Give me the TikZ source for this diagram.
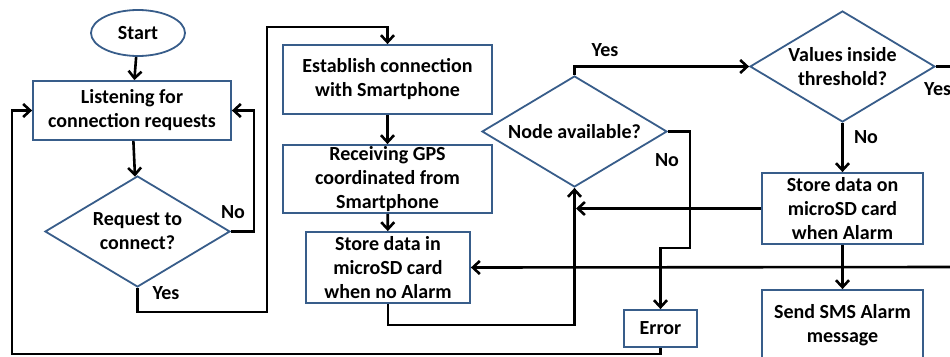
\documentclass[tikz,border=0pt]{standalone}
\usepackage{fontspec}
\setmainfont{Carlito}
\usetikzlibrary{shapes.geometric,arrows.meta}
\definecolor{boxline}{RGB}{56,93,138}
\begin{document}
\begin{tikzpicture}[x=1pt,y=-1pt,
  every node/.style={font=\bfseries\fontsize{20}{24}\selectfont, align=center, text=black},
  procbox/.style={draw=boxline, line width=1.8pt, fill=white, rectangle, inner sep=0pt},
  decision/.style={draw=boxline, line width=1.8pt, fill=white, diamond, aspect=1.667, inner sep=0pt, minimum width=185pt, minimum height=111pt},
  terminal/.style={draw=boxline, line width=1.8pt, fill=white, ellipse, inner sep=0pt},
  conn/.style={line width=2.6pt, black, -{Straight Barb[length=7pt,width=13pt]}},
  plain/.style={line width=2.6pt, black},
  lbl/.style={inner sep=0pt}
]
\useasboundingbox (0,0) rectangle (950,356);

% nodes
\node[terminal, minimum width=94pt, minimum height=46pt] (start) at (138,33) {Start};
\node[procbox, minimum width=198pt, minimum height=59pt] (listen) at (132,110.5) {Listening for\\connection requests};
\node[decision] (req) at (137.5,231.5) {Request to\\connect?};
\node[procbox, minimum width=209pt, minimum height=69pt] (establish) at (387.5,79.5) {Establish connection\\with Smartphone};
\node[procbox, minimum width=209pt, minimum height=68pt] (receiving) at (387.5,179) {Receiving GPS\\coordinated from\\Smartphone};
\node[procbox, minimum width=164pt, minimum height=71pt] (storeno) at (388,267.5) {Store data in\\microSD card\\when no Alarm};
\node[decision] (nodeav) at (574.5,131.5) {Node available?};
\node[procbox, minimum width=73pt, minimum height=37pt] (error) at (660.5,328.5) {Error};
\node[decision] (values) at (842.5,66.5) {Values inside\\threshold?};
\node[procbox, minimum width=161pt, minimum height=71pt] (storeal) at (842.5,208.5) {Store data on\\microSD card\\when Alarm};
\node[procbox, minimum width=161pt, minimum height=71pt] (sms) at (842.5,325.5) {Send SMS Alarm\\message};

% free-end coordinates
\coordinate (bl) at (12,354);
\coordinate (rtop) at (952,66.5);
\coordinate (rmid) at (952,267);
\coordinate (hit) at (576,208.5);

% connectors
\draw[conn] (start) -- (listen);
\draw[conn] (listen) -- (req);
\draw[conn] (req.east) -- (254,231.5) |- (listen.east);
\draw[conn] (req.south) |- (267,312) -- (267,27) -| (establish.north);
\draw[conn] (establish) -- (receiving);
\draw[conn] (receiving) -- (storeno);
\draw[conn] (storeno.south) |- (500,325) -| (nodeav.south);
\draw[conn] (nodeav.north) |- (values.west);
\draw[conn] (nodeav.east) -| (690,248) -| (error.north);
\draw[conn] (error.south) |- (bl) |- (listen.west);
\draw[conn] (values.south) -- (storeal.north);
\draw[conn] (storeal.south) -- (sms.north);
\draw[plain] (values.east) -- (rtop);
\draw[conn] (storeal.west) -- (hit);
\draw[conn] (rmid) -- (storeno.east);

% labels
\node[lbl] at (233,212) {No};
\node[lbl] at (166,293) {Yes};
\node[lbl] at (605,50) {Yes};
\node[lbl] at (667,160) {No};
\node[lbl] at (866,137) {No};
\node[lbl, anchor=west] at (924,89) {Yes};
\end{tikzpicture}
\end{document}
